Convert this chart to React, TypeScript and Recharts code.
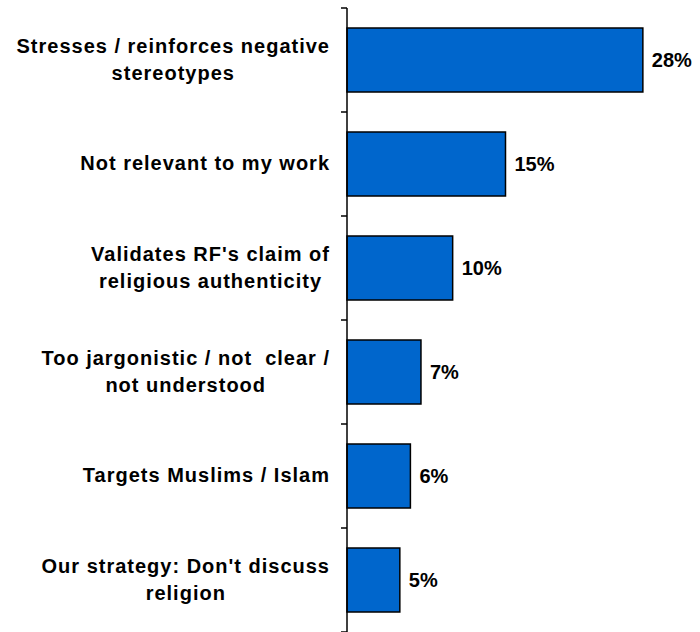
import React from 'react';
import { BarChart, Bar, XAxis, YAxis, LabelList } from 'recharts';

// reasons, top to bottom, already broken into the lines shown on the axis
const reasons: string[][] = [
  ['Stresses / reinforces negative', 'stereotypes'],
  ['Not relevant to my work'],
  ["Validates RF's claim of", 'religious authenticity'],
  ['Too jargonistic / not  clear /', 'not understood'],
  ['Targets Muslims / Islam'],
  ["Our strategy: Don't discuss", 'religion'],
];
const shares = [28, 15, 10, 7, 6, 5];

const FONT = '"Liberation Sans", Arial, sans-serif';
const LABEL_SIZE = 20;
const LETTER_SP = 1;
const TICK_SIZE = 6;
const TICK_MARGIN = 2;

const chartData = reasons.map((lines, i) => ({
  name: lines.join(' '),
  value: shares[i],
}));

let measureCtx: CanvasRenderingContext2D | null = null;
function textWidth(s: string) {
  if (!measureCtx) {
    measureCtx = document.createElement('canvas').getContext('2d');
  }
  if (!measureCtx) return s.length * LABEL_SIZE * 0.6;
  measureCtx.font = `bold ${LABEL_SIZE}px ${FONT}`;
  return measureCtx.measureText(s).width + (s.length - 1) * LETTER_SP;
}

// label block right-aligned next to the axis, lines centred inside it,
// plus the short tick marks on the category boundaries
function ReasonTick(props: any) {
  const { x, y, payload, index } = props;
  const lines = reasons[index] ?? [payload.value];
  const half = payload?.offset || 52;
  const axisX = x + TICK_SIZE + TICK_MARGIN;
  const lineH = 27;
  const start = y - 1 - ((lines.length - 1) * lineH) / 2;
  const blockW = Math.max(...lines.map(textWidth));
  const right = axisX - 18;
  const cx = right - blockW / 2 + LETTER_SP / 2;
  return (
    <g>
      <line x1={axisX - 6} x2={axisX} y1={y - half} y2={y - half} stroke="#000" strokeWidth={1.5} />
      {index === reasons.length - 1 && (
        <line x1={axisX - 6} x2={axisX} y1={y + half} y2={y + half} stroke="#000" strokeWidth={1.5} />
      )}
      <text
        x={cx}
        y={start}
        textAnchor="middle"
        dominantBaseline="central"
        fontFamily={FONT}
        fontWeight="bold"
        fontSize={LABEL_SIZE}
        letterSpacing={LETTER_SP}
        fill="#000"
      >
        {lines.map((l, i) => (
          <tspan key={i} x={cx} y={start + i * lineH} style={{ whiteSpace: 'pre' }}>
            {l}
          </tspan>
        ))}
      </text>
    </g>
  );
}

export default function App() {
  return (
    <div style={{ position: 'absolute', left: 0, top: 0, background: '#fff' }}>
      <BarChart
        width={700}
        height={632}
        data={chartData}
        layout="vertical"
        margin={{ top: 8, right: 36, bottom: 0, left: 0 }}
        barSize={64}
      >
        <XAxis type="number" domain={[0, 30]} hide />
        <YAxis
          type="category"
          dataKey="name"
          width={347}
          axisLine={{ stroke: '#000', strokeWidth: 1.5 }}
          tickLine={false}
          tickSize={TICK_SIZE}
          tickMargin={TICK_MARGIN}
          tick={<ReasonTick />}
          interval={0}
        />
        <Bar
          dataKey="value"
          fill="#0066CC"
          stroke="#000"
          strokeWidth={1.5}
          isAnimationActive={false}
        >
          <LabelList
            dataKey="value"
            position="right"
            offset={9}
            formatter={(v: any) => `${v}%`}
            fill="#000"
            fontFamily={FONT}
            fontWeight="bold"
            fontSize={20}
          />
        </Bar>
      </BarChart>
    </div>
  );
}
